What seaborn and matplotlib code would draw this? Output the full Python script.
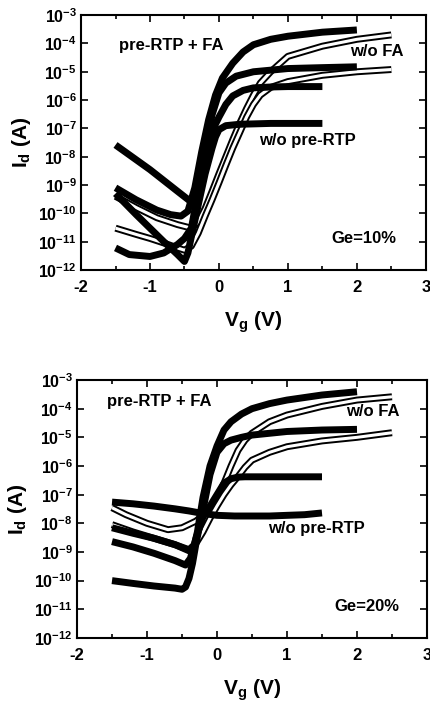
import numpy as np
import pandas as pd
import matplotlib
matplotlib.use('Agg')
import matplotlib.pyplot as plt
import seaborn as sns
from matplotlib.ticker import MultipleLocator, NullLocator

# ---- data ----
# Ge = 10 %
vg_fa_hi_10 = [-1.5, -1.2, -0.9, -0.7, -0.55, -0.45, -0.35, -0.25, -0.15, -0.05, 0.05, 0.2, 0.35, 0.5, 0.75, 1.0, 1.5, 2.0]
id_fa_hi_10 = [8e-10, 3e-10, 1.3e-10, 9e-11, 8e-11, 1.2e-10, 8e-10, 1.5e-8, 2e-7, 1.5e-6, 6e-6, 2e-5, 5e-5, 9e-5, 1.4e-4, 1.8e-4, 2.5e-4, 3e-4]
vg_fa_lo_10 = [-1.5, -1.3, -1.0, -0.8, -0.6, -0.5, -0.4, -0.3, -0.2, -0.1, 0.0, 0.1, 0.25, 0.5, 1.0, 1.5, 2.0]
id_fa_lo_10 = [6e-12, 3.5e-12, 3e-12, 4e-12, 8e-12, 1.3e-11, 3e-11, 6e-10, 1.5e-8, 3e-7, 1.8e-6, 4e-6, 7e-6, 1e-5, 1.3e-5, 1.4e-5, 1.5e-5]
vg_rtp_hi_10 = [-1.5, -1.0, -0.6, -0.4, -0.3, -0.2, -0.1, 0.0, 0.1, 0.2, 0.35, 0.5, 0.75, 1.0, 1.5]
id_rtp_hi_10 = [2.6e-8, 3.5e-9, 6e-10, 2.5e-10, 1.5e-9, 1.5e-8, 8e-8, 2.5e-7, 7e-7, 1.4e-6, 2.2e-6, 2.7e-6, 2.9e-6, 3e-6, 3e-6]
vg_rtp_lo_10 = [-1.5, -1.2, -1.0, -0.8, -0.6, -0.5, -0.45, -0.4, -0.3, -0.2, -0.1, -0.05, 0.0, 0.1, 0.3, 0.75, 1.5]
id_rtp_lo_10 = [5e-10, 9e-11, 3e-11, 1e-11, 3.5e-12, 2e-12, 4e-12, 1.5e-11, 2e-10, 2.5e-9, 2e-8, 5e-8, 9e-8, 1.25e-7, 1.4e-7, 1.5e-7, 1.5e-7]
vg_wofa_hi_10 = [-1.5, -1.2, -0.9, -0.6, -0.4, -0.3, -0.2, -0.1, 0.0, 0.1, 0.2, 0.3, 0.4, 0.5, 0.6, 0.75, 1.0, 1.5, 2.0, 2.5]
id_wofa_hi_10 = [4e-10, 1.6e-10, 7e-11, 4e-11, 3e-11, 5e-11, 1.5e-10, 6e-10, 2.5e-9, 1e-8, 4e-8, 1.5e-7, 5e-7, 1.5e-6, 4e-6, 1e-5, 3.5e-5, 8e-5, 1.4e-4, 2e-4]
vg_wofa_lo_10 = [-1.5, -1.2, -1.0, -0.8, -0.6, -0.5, -0.4, -0.3, -0.2, -0.1, 0.0, 0.1, 0.2, 0.3, 0.4, 0.5, 0.6, 0.75, 1.0, 1.5, 2.0, 2.5]
id_wofa_lo_10 = [3e-11, 1.8e-11, 1.3e-11, 9e-12, 6e-12, 5e-12, 7e-12, 2e-11, 8e-11, 3e-10, 1.2e-9, 5e-9, 2e-8, 7e-8, 2.5e-7, 7e-7, 1.5e-6, 2.8e-6, 4.5e-6, 7.5e-6, 1e-5, 1.2e-5]

# Ge = 20 %
vg_fa_hi_20 = [-1.5, -1.2, -0.9, -0.6, -0.4, -0.33, -0.28, -0.2, -0.1, 0.0, 0.1, 0.2, 0.35, 0.5, 0.75, 1.0, 1.5, 2.0]
id_fa_hi_20 = [7e-9, 4.5e-9, 3e-9, 1.8e-9, 1.1e-9, 1.5e-9, 5e-9, 8e-8, 1e-6, 5e-6, 1.8e-5, 3.5e-5, 6.5e-5, 1e-4, 1.5e-4, 2e-4, 3e-4, 3.9e-4]
vg_fa_lo_20 = [-1.5, -1.2, -0.9, -0.6, -0.5, -0.45, -0.4, -0.35, -0.3, -0.2, -0.1, 0.0, 0.1, 0.2, 0.35, 0.5, 1.0, 1.5, 2.0]
id_fa_lo_20 = [1e-10, 8e-11, 6.5e-11, 5.5e-11, 5e-11, 6e-11, 1.2e-10, 4e-10, 2e-9, 3e-8, 5e-7, 3e-6, 6e-6, 8e-6, 1e-5, 1.2e-5, 1.6e-5, 1.8e-5, 1.9e-5]
vg_rtp_hi_20 = [-1.5, -1.2, -0.9, -0.6, -0.45, -0.38, -0.3, -0.2, -0.1, 0.0, 0.1, 0.2, 0.3, 0.4, 0.6, 1.0, 1.5]
id_rtp_hi_20 = [2.3e-9, 1.5e-9, 9e-10, 5e-10, 3.5e-10, 6e-10, 3e-9, 1.7e-8, 4e-8, 1e-7, 2.5e-7, 3.6e-7, 4.1e-7, 4.2e-7, 4.2e-7, 4.2e-7, 4.2e-7]
vg_rtp_lo_20 = [-1.5, -1.2, -0.9, -0.6, -0.4, -0.2, 0.0, 0.25, 0.5, 0.75, 1.0, 1.25, 1.5]
id_rtp_lo_20 = [5.5e-8, 4.8e-8, 4e-8, 3.2e-8, 2.7e-8, 2.2e-8, 1.9e-8, 1.8e-8, 1.8e-8, 1.8e-8, 1.9e-8, 2e-8, 2.3e-8]
vg_wofa_hi_20 = [-1.5, -1.3, -1.0, -0.7, -0.5, -0.3, -0.1, 0.0, 0.1, 0.2, 0.3, 0.4, 0.5, 0.75, 1.0, 1.5, 2.0, 2.5]
id_wofa_hi_20 = [3.5e-8, 2e-8, 1e-8, 6e-9, 7e-9, 1.2e-8, 3e-8, 8e-8, 2.5e-7, 1e-6, 3.5e-6, 8e-6, 1.4e-5, 3.5e-5, 6e-5, 1.2e-4, 2e-4, 2.6e-4]
vg_wofa_lo_20 = [-1.5, -1.2, -0.9, -0.6, -0.4, -0.3, -0.2, -0.1, 0.0, 0.1, 0.2, 0.3, 0.4, 0.5, 0.75, 1.0, 1.5, 2.0, 2.5]
id_wofa_lo_20 = [9e-9, 5e-9, 3e-9, 1.8e-9, 1.2e-9, 2e-9, 5e-9, 1.5e-8, 4e-8, 1e-7, 2.2e-7, 4.3e-7, 9e-7, 1.6e-6, 3e-6, 4.7e-6, 7.5e-6, 1e-5, 1.45e-5]

y_exponents = [-12, -11, -10, -9, -8, -7, -6, -5, -4, -3]
x_ticks = [-2, -1, 0, 1, 2, 3]

# ---- style ----
sns.set_style('ticks')
plt.rcParams['font.family'] = ['Liberation Sans', 'DejaVu Sans']
plt.rcParams['font.weight'] = 'bold'
plt.rcParams['mathtext.fontset'] = 'custom'
plt.rcParams['mathtext.rm'] = 'Liberation Sans:bold'
plt.rcParams['mathtext.it'] = 'Liberation Sans:bold'
plt.rcParams['mathtext.bf'] = 'Liberation Sans:bold'
for key in ['text.color', 'axes.labelcolor', 'xtick.color', 'ytick.color', 'axes.edgecolor']:
    plt.rcParams[key] = 'black'


def draw(ax, vg, idd, kind):
    df = pd.DataFrame({'Vg': vg, 'Id': idd})
    sns.lineplot(data=df, x='Vg', y='Id', ax=ax, color='black', linewidth=5,
                 estimator=None, sort=False, solid_capstyle='butt')
    if kind == 'open':
        sns.lineplot(data=df, x='Vg', y='Id', ax=ax, color='white', linewidth=2.2,
                     estimator=None, sort=False, solid_capstyle='butt')


def style_axes(ax):
    ax.set_yscale('log')
    ax.set_xlim(-2, 3)
    ax.set_ylim(1e-12, 1e-3)
    ax.set_xticks(x_ticks)
    ax.set_xticklabels([str(t) for t in x_ticks], fontsize=12, fontweight='bold')
    ax.xaxis.set_minor_locator(MultipleLocator(0.5))
    ax.set_yticks([10.0 ** e for e in y_exponents])
    ax.set_yticklabels([f'$10^{{{e}}}$' for e in y_exponents], fontsize=11.5)
    ax.yaxis.set_minor_locator(NullLocator())
    ax.tick_params(which='both', direction='in', top=True, right=True, width=1.2)
    ax.tick_params(which='major', length=5)
    ax.tick_params(axis='x', which='major', pad=7)
    ax.tick_params(axis='y', which='major', pad=3)
    ax.tick_params(which='minor', length=3)
    for s in ax.spines.values():
        s.set_linewidth(1.5)
    ax.set_xlabel('V$_g$ (V)', fontsize=15, fontweight='bold', labelpad=11)
    ax.set_ylabel('I$_d$ (A)', fontsize=15, fontweight='bold', labelpad=4)


fig = plt.figure(figsize=(4.31, 7.04), dpi=100)
ax1 = fig.add_axes([0.188, 0.6165, 0.800, 0.3620])
ax2 = fig.add_axes([0.1787, 0.0938, 0.812, 0.3664])

draw(ax1, vg_wofa_hi_10, id_wofa_hi_10, 'open')
draw(ax1, vg_wofa_lo_10, id_wofa_lo_10, 'open')
draw(ax1, vg_rtp_hi_10, id_rtp_hi_10, 'filled')
draw(ax1, vg_rtp_lo_10, id_rtp_lo_10, 'filled')
draw(ax1, vg_fa_hi_10, id_fa_hi_10, 'filled')
draw(ax1, vg_fa_lo_10, id_fa_lo_10, 'filled')

draw(ax2, vg_wofa_hi_20, id_wofa_hi_20, 'open')
draw(ax2, vg_wofa_lo_20, id_wofa_lo_20, 'open')
draw(ax2, vg_rtp_hi_20, id_rtp_hi_20, 'filled')
draw(ax2, vg_rtp_lo_20, id_rtp_lo_20, 'filled')
draw(ax2, vg_fa_hi_20, id_fa_hi_20, 'filled')
draw(ax2, vg_fa_lo_20, id_fa_lo_20, 'filled')

for ax in (ax1, ax2):
    style_axes(ax)

tk = dict(fontsize=12, fontweight='bold', va='center')
ax1.text(-1.45, 10 ** -4.06, 'pre-RTP + FA', ha='left', **tk)
ax1.text(2.67, 10 ** -4.3, 'w/o FA', ha='right', **tk)
ax1.text(0.58, 10 ** -7.42, 'w/o pre-RTP', ha='left', **tk)
ax1.text(2.57, 10 ** -10.88, 'Ge=10%', ha='right', **tk)

ax2.text(-1.57, 10 ** -3.76, 'pre-RTP + FA', ha='left', **tk)
ax2.text(2.61, 10 ** -4.1, 'w/o FA', ha='right', **tk)
ax2.text(0.73, 10 ** -8.17, 'w/o pre-RTP', ha='left', **tk)
ax2.text(2.61, 10 ** -10.9, 'Ge=20%', ha='right', **tk)

fig.savefig('out.png', dpi=100)
